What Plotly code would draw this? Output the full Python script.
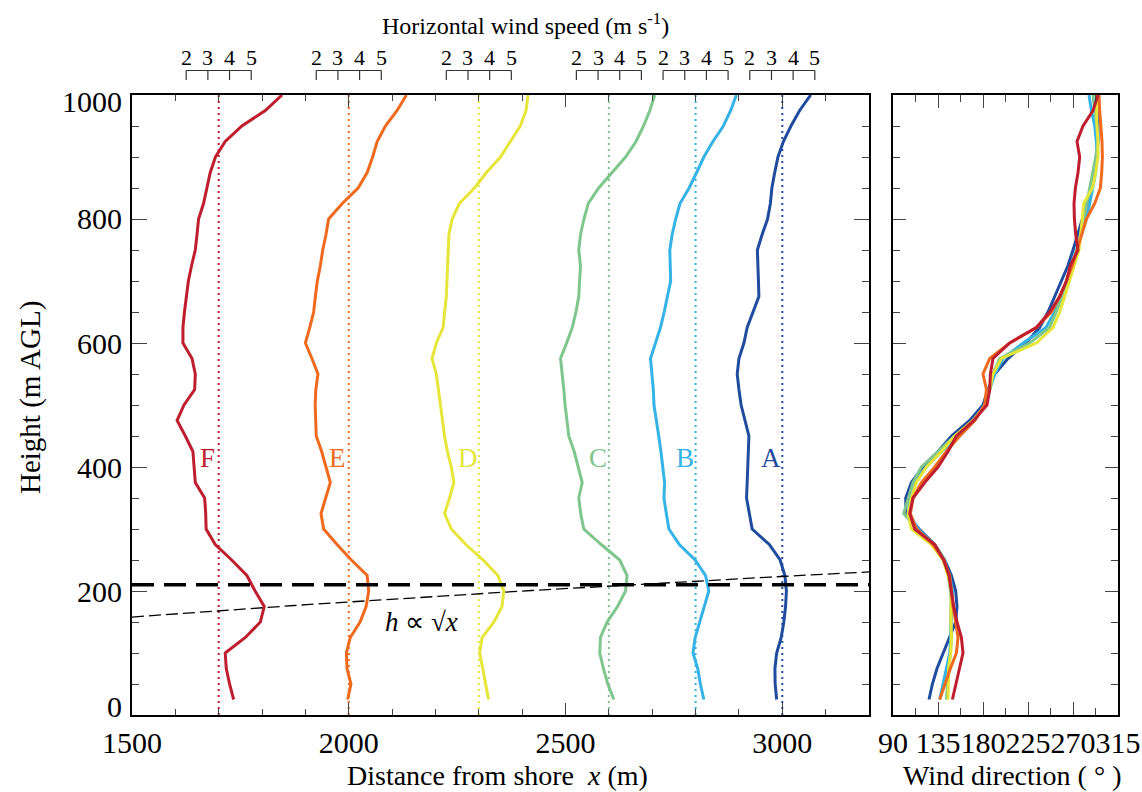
import numpy as np
import plotly.graph_objects as go

# ---------------- data ----------------
heights = list(range(25, 1001, 25))  # m AGL, 40 levels

profile_names = ["A", "B", "C", "D", "E", "F"]
profile_distance = [3000, 2800, 2600, 2300, 2000, 1700]  # m from shore
profile_colors = ["#1F4C9E", "#35B2E6", "#7FC68D", "#E6E63A", "#F06A1E", "#BE1E2D"]

speed_A = [3.24, 3.17, 3.16, 3.24, 3.45, 3.57, 3.65, 3.69, 3.62, 3.40, 2.90, 2.11, 1.98, 1.85, 1.88, 1.91, 1.94, 1.96, 1.78, 1.60,
           1.50, 1.42, 1.50, 1.73, 1.88, 2.15, 2.42, 2.40, 2.38, 2.35, 2.57, 2.82, 2.95, 3.02, 3.15, 3.30, 3.55, 3.90, 4.30, 4.81]
speed_B = [3.88, 3.72, 3.60, 3.38, 3.48, 3.70, 3.90, 4.11, 3.96, 3.48, 2.75, 2.27, 2.15, 2.04, 2.07, 2.00, 1.90, 1.80, 1.68, 1.58,
           1.55, 1.50, 1.42, 1.65, 1.88, 2.05, 2.20, 2.35, 2.33, 2.31, 2.42, 2.58, 2.78, 3.20, 3.55, 3.88, 4.30, 4.78, 5.12, 5.38]
speed_C = [3.73, 3.45, 3.25, 3.08, 3.11, 3.42, 3.90, 4.27, 4.34, 4.00, 3.15, 2.34, 2.20, 2.11, 2.27, 2.10, 1.90, 1.65, 1.55, 1.48,
           1.42, 1.35, 1.27, 1.55, 1.81, 1.98, 2.11, 2.15, 2.19, 2.11, 2.19, 2.35, 2.55, 3.03, 3.65, 4.27, 4.75, 5.10, 5.39, 5.62]
speed_D = [3.95, 3.83, 3.68, 3.54, 3.65, 4.20, 4.57, 4.65, 4.38, 3.70, 2.90, 2.23, 1.92, 2.15, 2.35, 2.23, 2.05, 1.92, 1.82, 1.75,
           1.64, 1.54, 1.34, 1.54, 1.85, 1.93, 2.00, 2.03, 2.06, 2.09, 2.12, 2.27, 2.60, 3.30, 3.85, 4.50, 4.96, 5.41, 5.68, 5.77]
speed_E = [3.45, 3.60, 3.42, 3.39, 3.57, 4.02, 4.30, 4.42, 4.35, 3.62, 2.96, 2.34, 2.22, 2.45, 2.65, 2.45, 2.25, 2.00, 1.98, 1.95,
           1.98, 2.08, 1.80, 1.50, 1.70, 1.88, 1.96, 2.05, 2.19, 2.30, 2.45, 2.57, 3.20, 3.93, 4.35, 4.60, 4.81, 5.19, 5.73, 6.16]
speed_F = [4.19, 4.00, 3.85, 3.80, 4.73, 5.42, 5.60, 5.18, 4.80, 4.10, 3.34, 2.92, 2.90, 2.85, 2.42, 2.37, 2.31, 1.96, 1.58, 1.90,
           2.39, 2.42, 2.27, 1.85, 1.85, 1.92, 2.00, 2.10, 2.25, 2.42, 2.50, 2.57, 2.80, 2.96, 3.11, 3.35, 3.80, 4.57, 5.65, 6.42]

dir_A = [126, 129.4, 134, 140, 146, 152.7, 154, 152.7, 148.4, 141.7, 131.7, 116, 103, 102.7, 108.4, 120, 135, 148.4, 166.7, 180,
         185, 191.7, 205, 223, 236.7, 245, 251.7, 258.4, 265, 270, 275, 279.4, 284, 288.4, 291.7, 293.4, 295, 295, 294, 293.4]
dir_B = [136.7, 140, 143.4, 146.7, 147.7, 147.4, 148.4, 149.4, 146.7, 140, 130, 115, 106, 106, 111.7, 123.4, 138.4, 156.7, 171.7, 181.7,
         186.7, 191.7, 200, 220, 243, 251.7, 258.4, 263.4, 268.4, 273.4, 278.4, 283.4, 286.7, 290, 292.7, 294, 293.4, 291.7, 288.4, 286]
dir_C = [143.4, 144.4, 145.7, 147.4, 148.4, 148.4, 148.4, 147.7, 145, 141.7, 131.7, 113.4, 100.7, 105, 110, 118.4, 135, 151.7, 171.7, 181.7,
         186.7, 190, 196.7, 226.7, 246.7, 253.4, 259.4, 264.4, 269.4, 274, 277.7, 280.7, 284, 286.7, 290, 292.7, 295, 294, 291.7, 290]
dir_D = [145, 145, 145.7, 147.7, 148.4, 147.7, 148.4, 148.4, 145, 140, 128.4, 108.4, 105, 108.4, 113.4, 123.4, 138.4, 151.7, 170, 182.7,
         186.7, 190, 198.4, 233.4, 250, 256.7, 261.7, 266.7, 271.7, 276, 277.7, 279, 280.7, 289.4, 292.7, 295, 295, 294, 293.4, 293.4]
dir_E = [136.7, 141.7, 147.4, 153.4, 155, 152.7, 150, 148.4, 146.7, 140.7, 130, 113.4, 107.4, 110, 118.4, 131.7, 143.4, 156.7, 171.7, 181.7,
         183.4, 180, 186.7, 206.7, 233.4, 248.4, 256.7, 263.4, 269.4, 274, 278.4, 283.4, 291.7, 297.4, 298.7, 299.4, 299, 297.7, 296.7, 296]
dir_F = [149.4, 152.7, 156.7, 160, 158.4, 154, 150.7, 148.4, 146, 140.7, 131.7, 111.7, 106.7, 110, 121.7, 135, 145, 153.4, 170.7, 184,
         186.7, 187.4, 190, 206.7, 233.4, 246.7, 256.7, 263.4, 267.4, 275, 272.7, 271.4, 271, 272.4, 275, 276.7, 274, 280, 290, 295]

speeds = [speed_A, speed_B, speed_C, speed_D, speed_E, speed_F]
directions = [dir_A, dir_B, dir_C, dir_D, dir_E, dir_F]

speed_scale_ticks = [2, 3, 4, 5]      # m/s labels on the mini scales
speed_center = 3.5                    # m/s located at each profile's distance
meters_per_ms = 50                    # horizontal scale of the wind-speed profiles
boundary_layer_height = 210           # thick dashed line, m
sqrt_coef = 4.08                      # h = c * sqrt(x)

x_range = [1500, 3200]
x_ticks = [1500, 2000, 2500, 3000]
dir_range = [90, 315]
dir_ticks = [90, 135, 180, 225, 270, 315]
h_range = [0, 1000]
h_ticks = [0, 200, 400, 600, 800, 1000]

# ---------------- figure ----------------
W, H = 1142, 792
L0, L1 = 132 / W, 869 / W
R0, R1 = 893 / W, 1118 / W
B0, B1 = (H - 715) / H, (H - 95) / H
FONT = "Liberation Serif"


def to_x(ref, u):
    return ref + (u - speed_center) * meters_per_ms


fig = go.Figure()

# dotted reference lines
for ref, col in zip(profile_distance, profile_colors):
    fig.add_trace(go.Scatter(x=[ref, ref], y=h_range, mode="lines",
                             line=dict(color=col, width=2, dash="2px,4px"),
                             xaxis="x", yaxis="y", hoverinfo="skip"))

# wind speed profiles
for ref, col, sp in zip(profile_distance, profile_colors, speeds):
    fig.add_trace(go.Scatter(x=[to_x(ref, u) for u in sp], y=heights, mode="lines",
                             line=dict(color=col, width=3), xaxis="x", yaxis="y"))

# boundary-layer lines
fig.add_trace(go.Scatter(x=x_range, y=[boundary_layer_height] * 2, mode="lines",
                         line=dict(color="black", width=3.5, dash="22px,10px"),
                         xaxis="x", yaxis="y"))
xs = np.linspace(x_range[0], x_range[1], 60)
fig.add_trace(go.Scatter(x=xs, y=sqrt_coef * np.sqrt(xs), mode="lines",
                         line=dict(color="black", width=1.3, dash="12px,5px"),
                         xaxis="x", yaxis="y"))

# wind direction profiles
for col, dr in zip(profile_colors, directions):
    fig.add_trace(go.Scatter(x=dr, y=heights, mode="lines",
                             line=dict(color=col, width=3), xaxis="x2", yaxis="y2"))

axis_common = dict(showline=True, linecolor="black", linewidth=1.5, mirror="allticks",
                   ticks="inside", tickcolor="#444", tickwidth=1.2, showgrid=False,
                   zeroline=False, automargin=False,
                   tickfont=dict(family=FONT, size=30, color="black"))

fig.update_layout(
    template="none",
    width=W, height=H, margin=dict(l=0, r=0, t=0, b=0, pad=0), autosize=False,
    plot_bgcolor="white", paper_bgcolor="white", showlegend=False,
    font=dict(family=FONT, color="black"),
    xaxis=dict(domain=[L0, L1], range=x_range, anchor="y", tickvals=x_ticks, ticklen=12,
               tickangle=0, minor=dict(dtick=100, ticks="inside", ticklen=6, tickcolor="#444"),
               **axis_common),
    yaxis=dict(domain=[B0, B1], range=h_range, anchor="x", tickvals=h_ticks, ticklen=15,
               showticklabels=False,
               minor=dict(dtick=50, ticks="inside", ticklen=7, tickcolor="#444"),
               **axis_common),
    xaxis2=dict(domain=[R0, R1], range=dir_range, anchor="y2", tickvals=dir_ticks, ticklen=13,
                tickangle=0, minor=dict(dtick=22.5, tick0=90, ticks="inside", ticklen=7, tickcolor="#444"),
                **axis_common),
    yaxis2=dict(domain=[B0, B1], range=h_range, anchor="x2", tickvals=h_ticks, ticklen=13,
                showticklabels=False,
                minor=dict(dtick=50, ticks="inside", ticklen=7, tickcolor="#444"),
                **axis_common),
)

# height tick labels (end labels nudged inside the axis span, as in the original)
for v in h_ticks:
    shift = 9 if v == h_range[0] else (-7 if v == h_range[1] else 0)
    fig.add_annotation(x=L0, y=v, xref="paper", yref="y", text=str(v), showarrow=False,
                       xanchor="right", yanchor="middle", xshift=-8, yshift=shift,
                       font=dict(family=FONT, size=30, color="black"))

# mini wind-speed scales at top
by = (H - 70.5) / H
ty = (H - 80) / H
ly = (H - 57) / H
for ref in profile_distance:
    xa = to_x(ref, speed_scale_ticks[0])
    xb = to_x(ref, speed_scale_ticks[-1])
    fig.add_shape(type="line", xref="x", yref="paper", x0=xa, x1=xb, y0=by, y1=by,
                  line=dict(color="#333", width=1.2))
    for u in speed_scale_ticks:
        xu = to_x(ref, u)
        fig.add_shape(type="line", xref="x", yref="paper", x0=xu, x1=xu, y0=by, y1=ty,
                      line=dict(color="#333", width=1.2))
        fig.add_annotation(x=xu, y=ly, xref="x", yref="paper", text=str(u), showarrow=False,
                           font=dict(family=FONT, size=22, color="black"),
                           xanchor="center", yanchor="middle")

# profile letters
for name, ref, col in zip(profile_names, profile_distance, profile_colors):
    fig.add_annotation(x=ref - 25, y=414, xref="x", yref="y", text=name, showarrow=False,
                       font=dict(family=FONT, size=27, color=col), xanchor="center", yanchor="middle")

fig.add_annotation(x=2168, y=150, xref="x", yref="y", text="<i>h</i> ∝ √<i>x</i>", showarrow=False,
                   font=dict(family=FONT, size=27, color="black"), xanchor="center", yanchor="middle")

# titles
fig.add_annotation(x=525 / W, y=(H - 24) / H, xref="paper", yref="paper",
                   text="Horizontal wind speed (m s<sup>-1</sup>)", showarrow=False,
                   font=dict(family=FONT, size=24, color="black"), xanchor="center", yanchor="middle")
fig.add_annotation(x=497 / W, y=(H - 775) / H, xref="paper", yref="paper",
                   text="Distance from shore  <i>x</i> (m)", showarrow=False,
                   font=dict(family=FONT, size=28, color="black"), xanchor="center", yanchor="middle")
fig.add_annotation(x=1012 / W, y=(H - 775) / H, xref="paper", yref="paper",
                   text="Wind direction ( ° )", showarrow=False,
                   font=dict(family=FONT, size=28, color="black"), xanchor="center", yanchor="middle")
fig.add_annotation(x=30 / W, y=(H - 398) / H, xref="paper", yref="paper",
                   text="Height (m AGL)", showarrow=False, textangle=-90,
                   font=dict(family=FONT, size=29, color="black"), xanchor="center", yanchor="middle")

fig.write_html("out.html", config={"displayModeBar": False},
               post_script="document.body.style.margin='0px';document.body.style.overflow='hidden';")
